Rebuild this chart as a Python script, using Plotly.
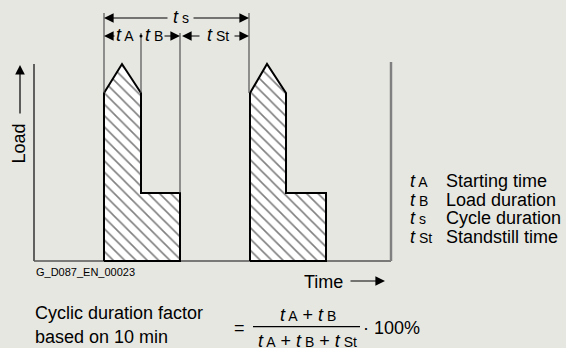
import plotly.graph_objects as go

# ---- data (time / load units of the duty-cycle diagram) ----
pulse1_time = [70, 70, 88, 107, 107, 146, 146, 70]
pulse1_load = [0, 168, 197, 168, 68, 68, 0, 0]
pulse2_time = [216, 216, 233, 252, 252, 292, 292, 216]
pulse2_load = [0, 168, 197, 168, 68, 68, 0, 0]

legend_symbols = ["A", "B", "s", "St"]
legend_labels = ["Starting time", "Load duration", "Cycle duration", "Standstill time"]

FONT = "Liberation Sans, Arial, sans-serif"
BG = "#e7e7e2"
FS = 18
SUB = 14


def tsub(s, size=SUB):
    return f"<i>t</i><span style='font-size:{size}px'> {s}</span>"


fig = go.Figure()
for tt, ll in [(pulse1_time, pulse1_load), (pulse2_time, pulse2_load)]:
    fig.add_trace(go.Scatter(
        x=tt, y=ll, mode="lines", fill="toself",
        line=dict(color="black", width=2),
        fillcolor="white",
        fillpattern=dict(shape="\\", fgcolor="black", bgcolor="white", size=8, solidity=0.2),
        hoverinfo="skip", showlegend=False))

shapes = []
# axes frame
shapes.append(dict(type="line", x0=0, x1=0, y0=0, y1=197, line=dict(color="#333", width=1.5), layer="below"))
shapes.append(dict(type="line", x0=0, x1=357, y0=0, y1=0, line=dict(color="#555", width=1.5), layer="below"))
shapes.append(dict(type="line", x0=357, x1=357, y0=0, y1=199, line=dict(color="#808080", width=2.5), layer="below"))
# guide lines
for gx, gy0, gy1 in [(70, 168, 248), (107, 168, 228), (146, 68, 228), (215, 168, 248)]:
    shapes.append(dict(type="line", x0=gx, x1=gx, y0=gy0, y1=gy1, line=dict(color="#444", width=1.1)))
# dot between tA and tB
shapes.append(dict(type="circle", x0=105.5, x1=108.5, y0=223.5, y1=226.5, fillcolor="black", line=dict(width=0)))
# fraction bar
shapes.append(dict(type="line", x0=219, x1=326, y0=-65.7, y1=-65.7, line=dict(color="black", width=1.3)))

ann = []


def arrow(x_tail, x_head, y_tail, y_head):
    ann.append(dict(x=x_head, y=y_head, ax=x_tail, ay=y_tail, xref="x", yref="y", axref="x", ayref="y",
                    text="", showarrow=True, arrowhead=2, arrowsize=1.6, arrowwidth=1.2,
                    arrowcolor="black", standoff=0, startstandoff=0))


def txt(x, y, t, size=FS, xanchor="center", **kw):
    ann.append(dict(x=x, y=y, xref="x", yref="y", text=t, showarrow=False, xanchor=xanchor,
                    yanchor="middle", font=dict(family=FONT, size=size, color="black"), **kw))


# dimension row 1 (ts)
arrow(135, 70, 243, 243)
arrow(158, 215, 243, 243)
txt(146.5, 244, tsub("s"))
# dimension row 2
arrow(82, 70, 225, 225)
txt(91, 226, tsub("A"))
txt(119.5, 226, tsub("B"))
arrow(129, 146, 225, 225)
arrow(167, 148, 225, 225)
txt(183.5, 226, tsub("St"))
arrow(199, 215, 225, 225)

# Load axis label
arrow(-14, -14, 146, 196)
txt(-15.5, 117, "Load", textangle=-90)
# Time axis label
txt(289, -21, "Time")
arrow(315, 351, -20, -20)
# code
txt(0, -11, "G_D087_EN_00023", size=11, xanchor="left")

# legend
for i, (s, lab) in enumerate(zip(legend_symbols, legend_labels)):
    yy = 80 - i * 18.7
    txt(374, yy, tsub(s), xanchor="left")
    txt(410, yy, lab, xanchor="left")

# formula
txt(-1, -52, "Cyclic duration factor", xanchor="left")
txt(-1, -76, "based on 10 min", xanchor="left")
txt(205, -67, "=")
txt(273.5, -54, tsub("A") + " + " + tsub("B"))
txt(273, -79.5, tsub("A") + " + " + tsub("B") + " + " + tsub("St"))
txt(327, -67, "· 100%", xanchor="left")

fig.update_layout(
    width=566, height=348, margin=dict(l=0, r=0, t=0, b=0),
    paper_bgcolor=BG, plot_bgcolor=BG,
    xaxis=dict(range=[-34, 532], visible=False, fixedrange=True),
    yaxis=dict(range=[-87, 261], visible=False, fixedrange=True),
    shapes=shapes, annotations=ann, showlegend=False,
    font=dict(family=FONT, size=FS),
)
fig.write_html(
    "out.html",
    config={"displayModeBar": False},
    post_script="document.body.style.margin='0';document.body.style.overflow='hidden';",
)
